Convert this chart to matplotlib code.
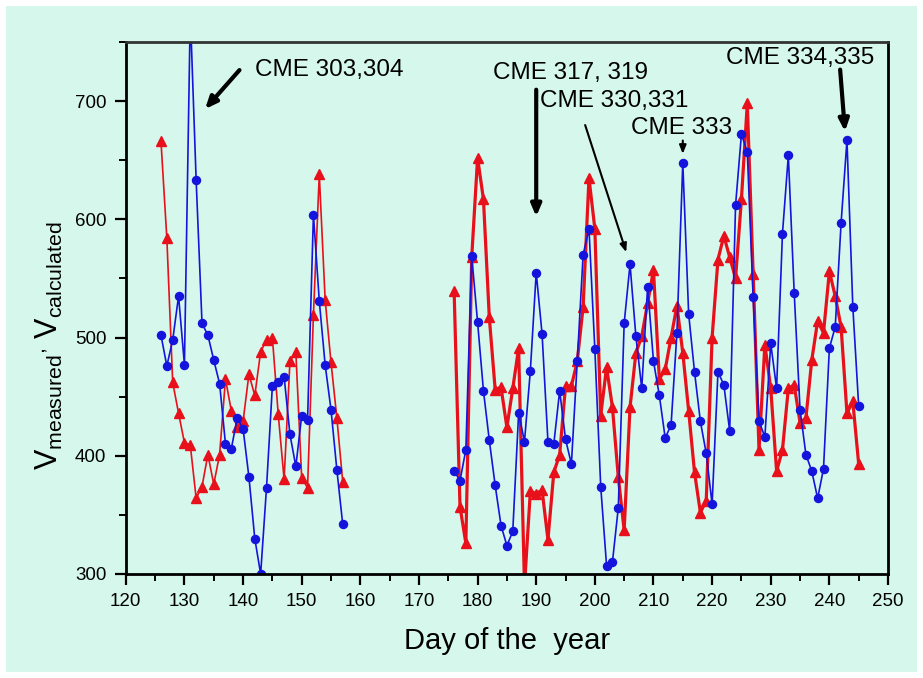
import numpy as np
import matplotlib
matplotlib.use("Agg")
import matplotlib.pyplot as plt
from matplotlib.patches import Rectangle
from matplotlib.ticker import MultipleLocator

plt.rcParams["font.family"] = ["Liberation Sans", "DejaVu Sans"]
plt.rcParams["mathtext.fontset"] = "custom"
plt.rcParams["mathtext.rm"] = "Liberation Sans"
plt.rcParams["mathtext.it"] = "Liberation Sans"

# first observing window
days_a = list(range(126, 158))
v_meas_a = [502, 476, 498, 535, 477, 775, 633, 512, 502, 481, 461, 410, 406, 432, 423, 382,
            330, 300, 373, 459, 462, 467, 418, 391, 434, 430, 604, 531, 477, 439, 388, 342]
v_calc_a = [666, 584, 462, 436, 411, 409, 364, 374, 401, 376, 401, 465, 438, 424, 429, 469,
            451, 488, 498, 500, 435, 380, 480, 488, 381, 373, 519, 638, 532, 479, 432, 378]

# second observing window
days_b = list(range(176, 246))
v_meas_b = [387, 379, 405, 569, 513, 455, 413, 375, 341, 324, 336, 436, 412, 472, 555, 503,
            412, 410, 455, 414, 393, 480, 570, 592, 490, 374, 307, 310, 356, 512, 562, 501,
            457, 543, 480, 451, 415, 426, 504, 648, 520, 471, 429, 402, 359, 471, 460, 421,
            612, 672, 657, 534, 429, 416, 495, 457, 588, 654, 538, 439, 401, 387, 364, 389,
            491, 509, 597, 667, 526, 442]
v_calc_b = [539, 357, 326, 568, 652, 617, 517, 456, 458, 424, 457, 491, 290, 370, 368, 371,
            329, 386, 401, 459, 459, 480, 526, 635, 592, 434, 475, 441, 382, 337, 441, 487,
            501, 529, 557, 465, 473, 500, 527, 487, 438, 386, 352, 362, 500, 566, 586, 568,
            550, 617, 698, 554, 405, 494, 457, 387, 405, 457, 460, 428, 432, 481, 514, 504,
            556, 535, 509, 436, 446, 393]

bg = "#d6f7ec"
blue = "#1414dc"
red = "#e8101a"

fig = plt.figure(figsize=(9.23, 6.78), dpi=100, facecolor="white")
fig.add_artist(Rectangle((6 / 923, 6 / 678), 911 / 923, 666 / 678,
                         transform=fig.transFigure, facecolor=bg,
                         edgecolor="none", zorder=-10))
ax = fig.add_axes([125.8 / 923, 104 / 678, 762.2 / 923, 532 / 678])
ax.set_facecolor("none")

ax.plot(days_a, v_calc_a, color=red, lw=1.2, marker="^", ms=7.5, mec=red)
ax.plot(days_a, v_meas_a, color=blue, lw=1.2, marker="o", ms=5.8, mec=blue)
ax.plot(days_b, v_calc_b, color=red, lw=2.3, marker="^", ms=7.5, mec=red)
ax.plot(days_b, v_meas_b, color=blue, lw=1.2, marker="o", ms=5.8, mec=blue)

ax.set_xlim(120, 250)
ax.set_ylim(300, 750)
ax.xaxis.set_major_locator(MultipleLocator(10))
ax.xaxis.set_minor_locator(MultipleLocator(5))
ax.set_yticks([300, 400, 500, 600, 700])
ax.yaxis.set_minor_locator(MultipleLocator(50))
ax.tick_params(which="major", direction="out", length=8, width=1.6, labelsize=13.5, pad=6)
ax.tick_params(which="minor", direction="out", length=5, width=1.4)
for s in ax.spines.values():
    s.set_linewidth(2)
ax.spines["top"].set_color("#333333")

ax.set_xlabel("Day of the  year", fontsize=21, labelpad=12)
ax.set_ylabel(r"$V_{\mathrm{measured}}$$^{,}$ $V_{\mathrm{calculated}}$", fontsize=22)
ax.yaxis.set_label_coords(-0.08, 0.43)

txt = dict(fontsize=17.5, ha="left", va="center", color="black")
ax.text(142.0, 726.6, "CME 303,304", **txt)
ax.text(182.7, 724, "CME 317, 319", **txt)
ax.text(190.7, 700.4, "CME 330,331", **txt)
ax.text(206.2, 677.6, "CME 333", **txt)
ax.text(222.4, 736.8, "CME 334,335", **txt)

thick = dict(arrowstyle="-|>,head_length=0.7,head_width=0.3", color="black", lw=3)
thin = dict(arrowstyle="-|>,head_length=0.5,head_width=0.2", color="black", lw=1.5)
ax.annotate("", xy=(133.2, 691.5), xytext=(139.7, 728), arrowprops=thick)
ax.annotate("", xy=(190, 600), xytext=(190, 712), arrowprops=thick)
ax.annotate("", xy=(205.5, 570), xytext=(198.2, 682), arrowprops=thin)
ax.annotate("", xy=(215, 653), xytext=(215, 669), arrowprops=thin)
ax.annotate("", xy=(242.7, 672), xytext=(241.8, 729), arrowprops=thick)

fig.savefig("out.png", dpi=100, facecolor=fig.get_facecolor())
